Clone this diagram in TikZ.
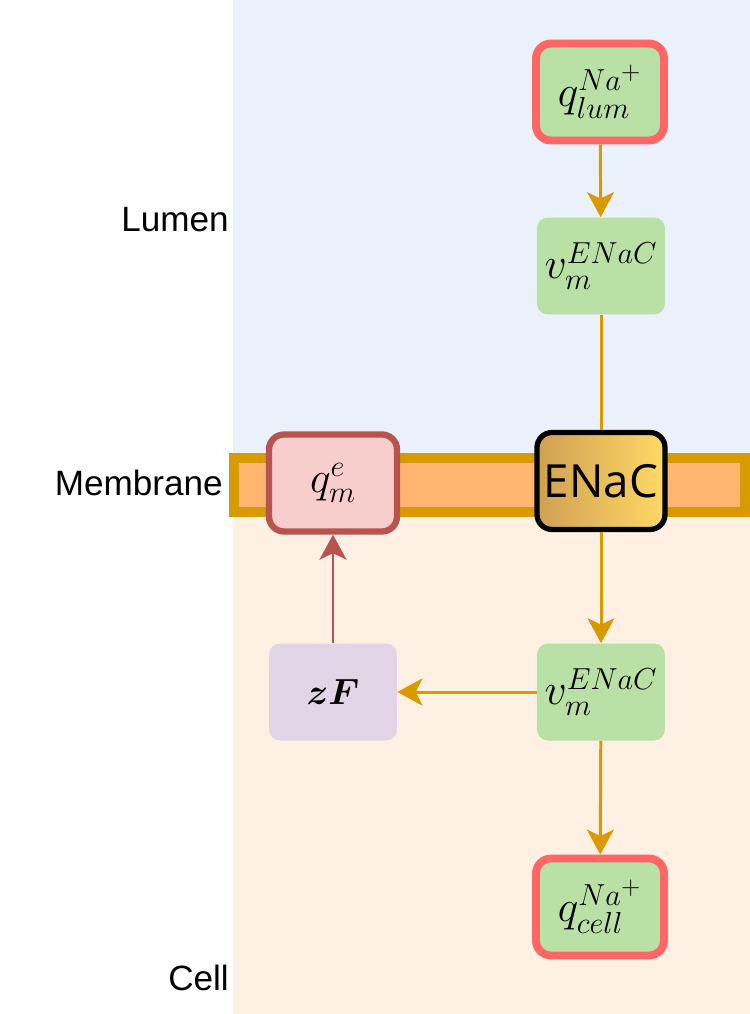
\documentclass[tikz,border=0pt]{standalone}
\usepackage{amsmath}
\usepackage{fontspec}
\setmainfont{Liberation Sans}
\newfontfamily\enacfont{Open Sans}
\usetikzlibrary{arrows.meta}
\definecolor{lumen}{HTML}{EAF1FB}
\definecolor{zelle}{HTML}{FEF0E3}
\definecolor{membran}{HTML}{FFB570}
\definecolor{membrand}{HTML}{D79B00}
\definecolor{gruen}{HTML}{B9E0A5}
\definecolor{hrot}{HTML}{FF6666}
\definecolor{rosa}{HTML}{F8CECC}
\definecolor{drot}{HTML}{B85450}
\definecolor{lila}{HTML}{E1D5E7}
\definecolor{goldl}{HTML}{D0A052}
\definecolor{goldr}{HTML}{FFD966}
\tikzset{
  box/.style={rounded corners=0.22cm,minimum width=2.56cm,minimum height=1.94cm,inner sep=0pt,font=\fontsize{25}{30}\selectfont},
  pool/.style={box,fill=gruen,draw=hrot,line width=4.5pt,rounded corners=0.3cm,font=\fontsize{27}{32}\selectfont},
  rate/.style={box,fill=gruen},
  ladung/.style={box,fill=rosa,draw=drot,line width=3.6pt,rounded corners=0.3cm},
  konst/.style={box,fill=lila,font=\fontsize{21.5}{26}\selectfont},
  kanal/.style={box,left color=goldl,right color=goldr,draw=black,line width=3pt,rounded corners=0.3cm,font=\enacfont\fontsize{26}{30}\selectfont},
  fluss/.style={-{Stealth[length=5mm,width=5.4mm,inset=1.3mm]},membrand,line width=1.7pt},
  flussr/.style={-{Stealth[length=5mm,width=5.4mm,inset=1.3mm]},drot,line width=1.7pt},
  zone/.style={font=\fontsize{20}{24}\selectfont,anchor=east},
}
\begin{document}
\begin{tikzpicture}[x=0.02cm,y=-0.02cm]
  \useasboundingbox (0,0) rectangle (750,1014);
  % compartments
  \fill[lumen] (233,0) rectangle (750,458);
  \fill[zelle] (233,512) rectangle (750,1014);
  \draw[fill=membran,draw=membrand,line width=5.7pt] (234,458) rectangle (745,512);
  \node[zone] (tlumen) at (235,220) {Lumen};
  \node[zone] (tmembran) at (229,483) {Membrane};
  \node[zone] (tcell) at (235,978) {Cell};
  % nodes
  \node[pool] (qlum) at (600,92) {$q_{lum}^{Na^+}$};
  \node[rate] (vtop) at (601,266) {$v_m^{ENaC}$};
  \node[kanal] (enac) at (601,481) {ENaC};
  \node[ladung] (qe) at (333,483) {$q_m^e$};
  \node[konst] (zf) at (333,692) {$\boldsymbol{zF}$};
  \node[rate] (vbot) at (601,692) {$v_m^{ENaC}$};
  \node[pool] (qcell) at (600,907) {$q_{cell}^{Na^+}$};
  % edges
  \draw[fluss] (qlum) -- (vtop);
  \draw[membrand,line width=1.7pt] (vtop) -- (enac);
  \draw[fluss] (enac) -- (vbot);
  \draw[fluss] (vbot) -- (zf);
  \draw[fluss] (vbot) -- (qcell);
  \draw[flussr] (zf) -- (qe);
\end{tikzpicture}
\end{document}
